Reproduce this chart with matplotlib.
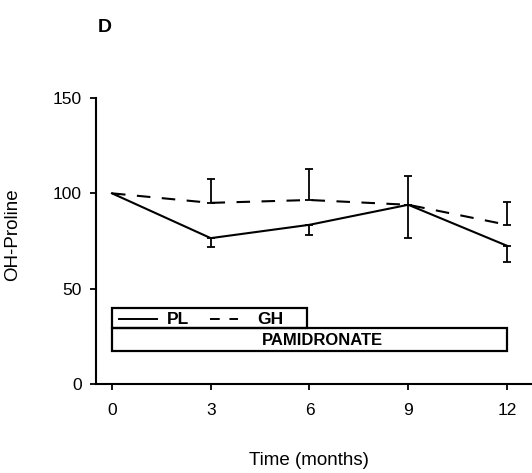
import matplotlib
matplotlib.use("Agg")
import matplotlib.pyplot as plt
from matplotlib.patches import Rectangle

plt.rcParams['font.family'] = ['Liberation Sans', 'DejaVu Sans']

months = [0, 3, 6, 9, 12]
pl = [100, 76.5, 83.5, 94, 72.5]
pl_err_low = [0, 4.5, 5.5, 17.5, 8.5]
gh = [100, 95, 96.5, 94, 83.5]
gh_err_up = [0, 12.5, 16, 15, 12]
x_ticks = [0, 3, 6, 9, 12]
y_ticks = [0, 50, 100, 150]

fig = plt.figure(figsize=(5.32, 4.73), dpi=100)
ax = fig.add_axes([96/532, 1-384/473, (532-96)/532, (384-98)/473])

ax.plot(months, pl, color='black', lw=1.5, solid_joinstyle='miter')
ax.errorbar(months[1:], pl[1:], yerr=[pl_err_low[1:], [0]*4], fmt='none',
            ecolor='black', elinewidth=1.3, capsize=3, capthick=1.3)
ax.plot(months, gh, color='black', lw=1.5, dashes=(6.5, 5.5))
ax.errorbar(months[1:], gh[1:], yerr=[[0]*4, gh_err_up[1:]], fmt='none',
            ecolor='black', elinewidth=1.3, capsize=3, capthick=1.3)

# legend / treatment boxes
ax.add_patch(Rectangle((0, 29.5), 5.93, 10.5, fill=False, ec='black', lw=1.6))
ax.add_patch(Rectangle((0, 17.5), 12, 12, fill=False, ec='black', lw=1.6))
ax.plot([0.2, 1.37], [34, 34], color='black', lw=1.4)
ax.text(1.67, 34, 'PL', fontsize=12.5, fontweight='bold', va='center', ha='left')
ax.plot([2.98, 3.83], [34, 34], color='black', lw=1.4, dashes=(5, 5))
ax.text(4.4, 34, 'GH', fontsize=12.5, fontweight='bold', va='center', ha='left')
ax.text(6.4, 23, 'PAMIDRONATE', fontsize=12, fontweight='bold', va='center', ha='center')

ax.set_xlim(-0.486, 12.76)
ax.set_ylim(0, 150)
ax.set_xticks(x_ticks)
ax.set_yticks(y_ticks)
ax.tick_params(labelsize=12.5, length=4, width=1.3, pad=6)
ax.tick_params(axis='x', pad=10)
for s in ['top', 'right']:
    ax.spines[s].set_visible(False)
for s in ['left', 'bottom']:
    ax.spines[s].set_linewidth(1.5)

fig.text(309/532, 1-460/473, 'Time (months)', fontsize=13.5, ha='center', va='center')
fig.text(13/532, 1-235/473, 'OH-Proline', fontsize=13.5, ha='center', va='center', rotation=90)
fig.text(105/532, 1-27/473, 'D', fontsize=14, fontweight='bold', ha='center', va='center')

fig.savefig('out.png', dpi=100)
